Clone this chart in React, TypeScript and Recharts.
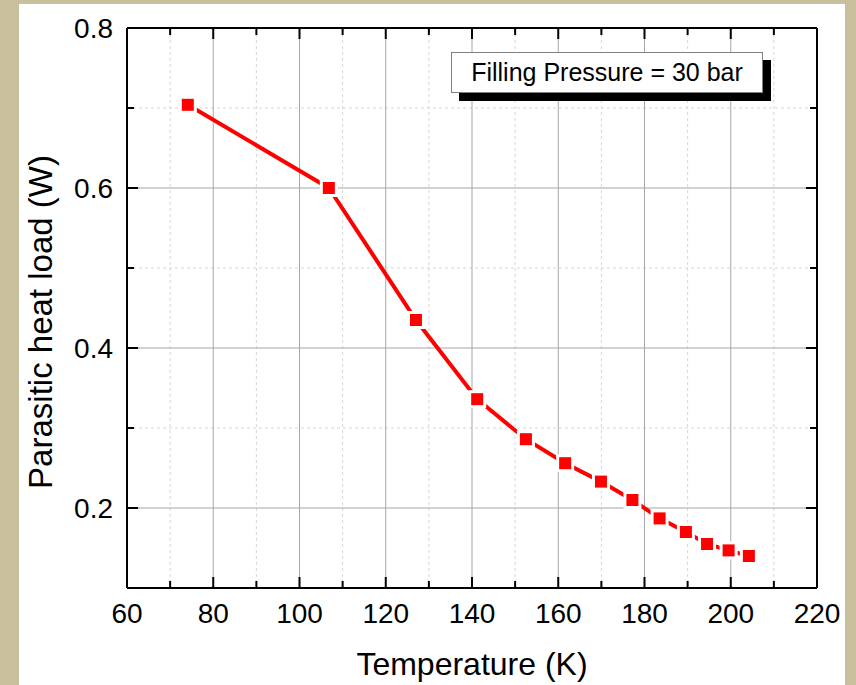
import React from 'react';
import { LineChart, Line, XAxis, YAxis, CartesianGrid } from 'recharts';

// values
const temperature = [74.1, 106.8, 127.0, 141.2, 152.5, 161.6, 169.9, 177.2, 183.5, 189.6, 194.5, 199.5, 204.2];
const heatLoad = [0.704, 0.6, 0.435, 0.336, 0.286, 0.256, 0.233, 0.21, 0.187, 0.17, 0.155, 0.147, 0.14];

const xMajorTicks = [60, 80, 100, 120, 140, 160, 180, 200, 220];
const xMinorTicks = [70, 90, 110, 130, 150, 170, 190, 210];
const yMajorTicks = [0.2, 0.4, 0.6, 0.8];
const yMinorTicks = [0.3, 0.5, 0.7];

const xDomain = [60, 220];
const yDomain = [0.1, 0.8];

const FONT = '"Liberation Sans", Arial, Helvetica, sans-serif';
const BEIGE = '#c8bf9c';

const data = temperature.map((t, i) => ({ t, q: heatLoad[i] }));

const SquareDot = (props: any) => {
  const { cx, cy, index } = props;
  if (cx == null || cy == null) return null;
  return (
    <g key={`dot-${index}`}>
      <rect x={cx - 9} y={cy - 9} width={18} height={18} fill="#ffffff" />
      <rect x={cx - 6} y={cy - 6} width={12} height={12} fill="#ff0000" />
    </g>
  );
};

const XTick = (props: any) => (
  <text x={props.x} y={props.y} dy="0.71em" textAnchor="middle" fontFamily={FONT} fontSize={28} fill="#000">
    {props.payload.value}
  </text>
);

const YTick = (props: any) => (
  <text x={props.x} y={props.y} dy="0.36em" textAnchor="end" fontFamily={FONT} fontSize={28} fill="#000">
    {Number(props.payload.value).toFixed(1)}
  </text>
);

const NoLabel = () => <g />;

const YTitle = (props: any) => {
  const { viewBox } = props;
  const x = 52;
  const y = viewBox.y + viewBox.height / 2 + 14;
  return (
    <text x={x} y={y} transform={`rotate(-90 ${x} ${y})`} textAnchor="middle" fontFamily={FONT} fontSize={33} fill="#000">
      Parasitic heat load (W)
    </text>
  );
};

const tickLineStyle = { stroke: '#000', strokeWidth: 2 };
const frameStyle = { stroke: '#000', strokeWidth: 2 };

// invisible series so the tick/grid axes get a domain
const helperPairs = [
  ['xMaj', 'yMaj'],
  ['xMin', 'yMin'],
  ['xMajTop', 'yMajRight'],
  ['xMinTop', 'yMinRight'],
];

export default function App() {
  return (
    <div style={{ position: 'absolute', left: 0, top: 0, width: 856, height: 685, background: BEIGE, fontFamily: FONT }}>
      <div style={{ position: 'absolute', left: 19, top: 4, width: 826, height: 681, background: '#ffffff' }} />
      <div style={{ position: 'absolute', left: 0, top: 0 }}>
        <LineChart width={856} height={685} data={data} margin={{ top: 28, right: 39, bottom: 0, left: 0 }}>
          <CartesianGrid xAxisId="xMin" yAxisId="yMin" stroke="#d6d6d6" strokeDasharray="3 3" />
          <CartesianGrid xAxisId="xMaj" yAxisId="yMaj" stroke="#a6a6a6" />

          {/* labelled axes */}
          <XAxis
            xAxisId="x"
            dataKey="t"
            type="number"
            domain={xDomain}
            allowDataOverflow
            ticks={xMajorTicks}
            height={97}
            tickLine={false}
            tickSize={7}
            tickMargin={8}
            axisLine={frameStyle}
            tick={XTick}
            label={{ value: 'Temperature (K)', position: 'insideBottom', offset: 10, fontSize: 32, fill: '#000', fontFamily: FONT }}
          />
          <YAxis
            yAxisId="y"
            dataKey="q"
            type="number"
            domain={yDomain}
            allowDataOverflow
            ticks={yMajorTicks}
            width={127}
            tickLine={false}
            tickSize={6}
            tickMargin={8}
            axisLine={frameStyle}
            tick={YTick}
            label={{ content: YTitle }}
          />

          {/* inward tick marks on all four sides */}
          <XAxis xAxisId="xMaj" dataKey="t" type="number" domain={xDomain} allowDataOverflow ticks={xMajorTicks} mirror height={1} tick={NoLabel} tickSize={11} tickLine={tickLineStyle} axisLine={false} />
          <XAxis xAxisId="xMin" dataKey="t" type="number" domain={xDomain} allowDataOverflow ticks={xMinorTicks} mirror height={1} tick={NoLabel} tickSize={6} tickLine={tickLineStyle} axisLine={false} />
          <XAxis xAxisId="xMajTop" dataKey="t" orientation="top" type="number" domain={xDomain} allowDataOverflow ticks={xMajorTicks} mirror height={1} tick={NoLabel} tickSize={11} tickLine={tickLineStyle} axisLine={frameStyle} />
          <XAxis xAxisId="xMinTop" dataKey="t" orientation="top" type="number" domain={xDomain} allowDataOverflow ticks={xMinorTicks} mirror height={1} tick={NoLabel} tickSize={6} tickLine={tickLineStyle} axisLine={false} />
          <YAxis yAxisId="yMaj" type="number" domain={yDomain} allowDataOverflow ticks={yMajorTicks} mirror width={1} tick={NoLabel} tickSize={11} tickLine={tickLineStyle} axisLine={false} />
          <YAxis yAxisId="yMin" type="number" domain={yDomain} allowDataOverflow ticks={yMinorTicks} mirror width={1} tick={NoLabel} tickSize={6} tickLine={tickLineStyle} axisLine={false} />
          <YAxis yAxisId="yMajRight" orientation="right" type="number" domain={yDomain} allowDataOverflow ticks={yMajorTicks} mirror width={1} tick={NoLabel} tickSize={11} tickLine={tickLineStyle} axisLine={frameStyle} />
          <YAxis yAxisId="yMinRight" orientation="right" type="number" domain={yDomain} allowDataOverflow ticks={yMinorTicks} mirror width={1} tick={NoLabel} tickSize={6} tickLine={tickLineStyle} axisLine={false} />

          {helperPairs.map(([xa, ya]) => (
            <Line
              key={xa}
              xAxisId={xa}
              yAxisId={ya}
              dataKey="q"
              stroke="none"
              dot={false}
              activeDot={false}
              legendType="none"
              isAnimationActive={false}
            />
          ))}

          <Line
            xAxisId="x"
            yAxisId="y"
            dataKey="q"
            stroke="#ff0000"
            strokeWidth={4}
            dot={SquareDot}
            activeDot={false}
            isAnimationActive={false}
          />
        </LineChart>
      </div>
      <div
        style={{
          position: 'absolute',
          left: 451,
          top: 52,
          width: 310,
          height: 39,
          border: '1px solid #808080',
          background: '#ffffff',
          boxShadow: '8px 8px 0 #000000',
          display: 'flex',
          alignItems: 'center',
          justifyContent: 'center',
          fontSize: 25,
          color: '#000',
          fontFamily: FONT,
        }}
      >
        Filling Pressure = 30 bar
      </div>
    </div>
  );
}
